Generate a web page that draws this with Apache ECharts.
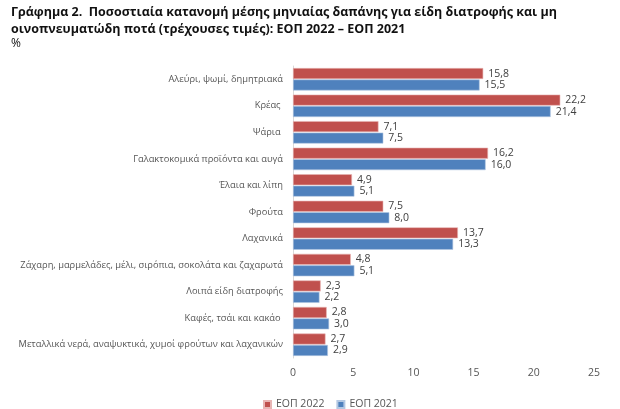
<!DOCTYPE html>
<html>
<head>
<meta charset="utf-8">
<script src="https://cdn.jsdelivr.net/npm/echarts@6/dist/echarts.min.js"></script>
<style>
    html, body { margin: 0; padding: 0; background: #fff; }
    #chart { width: 620px; height: 409px; }
</style>
</head>
<body>
<div id="chart"></div>
<script>
// 数据
let categories = [
    "Αλεύρι, ψωμί, δημητριακά",
    "Κρέας ",
    "Ψάρια ",
    "Γαλακτοκομικά προϊόντα και αυγά",
    "Έλαια και λίπη",
    "Φρούτα",
    "Λαχανικά",
    "Ζάχαρη, μαρμελάδες, μέλι, σιρόπια, σοκολάτα και ζαχαρωτά",
    "Λοιπά είδη διατροφής",
    "Καφές, τσάι και κακάο ",
    "Μεταλλικά νερά, αναψυκτικά, χυμοί φρούτων και λαχανικών"
];
let eop2022 = [15.8, 22.2, 7.1, 16.2, 4.9, 7.5, 13.7, 4.8, 2.3, 2.8, 2.7];
let eop2021 = [15.5, 21.4, 7.5, 16.0, 5.1, 8.0, 13.3, 5.1, 2.2, 3.0, 2.9];
let xTicks  = [0, 5, 10, 15, 20, 25];

let chart = echarts.init(document.getElementById('chart'));

// 数据标签 逗号小数
function label() {
    return {
        show: true,
        position: 'right',
        distance: 5,
        color: '#404040',
        fontSize: 10.5,
        fontFamily: 'Open Sans',
        formatter: p => p.value.toFixed(1).replace('.', ',')
    };
}

let option = {
    animation: false,
    textStyle: { fontFamily: 'Open Sans' },
    title: {
        text: 'Γράφημα 2.  Ποσοστιαία κατανομή μέσης μηνιαίας δαπάνης για είδη διατροφής και μη\nοινοπνευματώδη ποτά (τρέχουσες τιμές): ΕΟΠ 2022 – ΕΟΠ 2021',
        subtext: '%',
        left: 6,
        top: -1,
        itemGap: 0,
        textStyle: { fontSize: 12.5, fontWeight: 'bold', color: '#111', lineHeight: 17, fontFamily: 'Open Sans' },
        subtextStyle: { fontSize: 12, color: '#111', fontFamily: 'Open Sans' }
    },
    legend: {
        left: 258,
        top: 394,
        itemWidth: 7,
        itemHeight: 7,
        itemGap: 12,
        icon: 'rect',
        textStyle: { fontSize: 10.5, color: '#555', fontFamily: 'Open Sans' },
        data: ['ΕΟΠ 2022', 'ΕΟΠ 2021']
    },
    grid: { left: 293, right: 26, top: 66, bottom: 51 },
    xAxis: {
        type: 'value',
        min: 0,
        max: xTicks[xTicks.length - 1],
        interval: 5,
        axisLine: { show: false },
        axisTick: { show: false },
        splitLine: { show: false },
        axisLabel: { color: '#555', fontSize: 10.5, margin: 10 }
    },
    yAxis: {
        type: 'category',
        inverse: true,
        data: categories,
        axisLine: { show: true, lineStyle: { color: '#d9d9d9' } },
        axisTick: { show: false },
        axisLabel: { color: '#555', fontSize: 9.3, margin: 10 }
    },
    series: [
        {
            name: 'ΕΟΠ 2022',
            type: 'bar',
            data: eop2022,
            barWidth: 11,
            barGap: '4%',
            itemStyle: { color: '#c0504d', borderColor: '#e8b5b4', borderWidth: 0.6 },
            label: label()
        },
        {
            name: 'ΕΟΠ 2021',
            type: 'bar',
            data: eop2021,
            barWidth: 11,
            itemStyle: { color: '#4f81bd', borderColor: '#b3c8e3', borderWidth: 0.6 },
            label: label()
        }
    ]
};
chart.setOption(option);
</script>
</body>
</html>
